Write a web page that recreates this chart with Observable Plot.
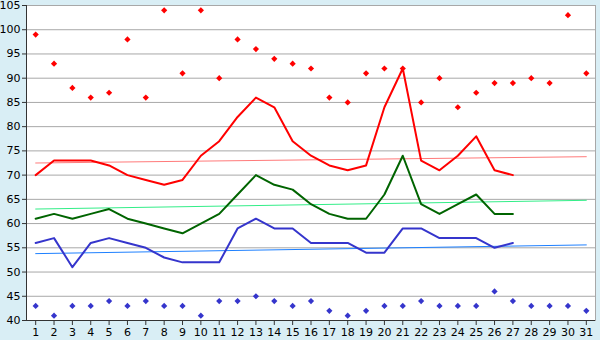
<!DOCTYPE html>
<html>
<head>
<meta charset="utf-8">
<script src="https://cdn.jsdelivr.net/npm/d3@7"></script>
<script src="https://cdn.jsdelivr.net/npm/@observablehq/plot@0.6"></script>
<style>
  html, body { margin: 0; padding: 0; background: #d9eef5; }
  #chart svg { display: block; }
</style>
</head>
<body>
<div id="chart"></div>
<script>
// Day of month (x axis tick labels)
const days = [1,2,3,4,5,6,7,8,9,10,11,12,13,14,15,16,17,18,19,20,21,22,23,24,25,26,27,28,29,30,31];

// Record highs / lows per day (scatter markers)
const recordHigh = [99,93,88,86,87,98,86,104,91,104,90,98,96,94,93,92,86,85,91,92,92,85,90,84,87,89,89,90,89,103,91];
const recordLow  = [43,41,43,43,44,43,44,43,43,41,44,44,45,44,43,44,42,41,42,43,43,44,43,43,43,46,44,43,43,43,42];

// Daily readings for days 1–27
const highs = [70,73,73,73,72,70,69,68,69,74,77,82,86,84,77,74,72,71,72,84,92,73,71,74,78,71,70];
const means = [61,62,61,62,63,61,60,59,58,60,62,66,70,68,67,64,62,61,61,66,74,64,62,64,66,62,62];
const lows  = [56,57,51,56,57,56,55,53,52,52,52,59,61,59,59,56,56,56,54,54,59,59,57,57,57,55,56];

// Trend line end values (day 1, day 31)
const trendDays  = [1, 31];
const highTrend  = [72.5, 73.8];
const meanTrend  = [63.0, 64.8];
const lowTrend   = [53.8, 55.6];

const yTicks = [40,45,50,55,60,65,70,75,80,85,90,95,100,105];

const pts = (xs, ys) => xs.map((x, i) => ({x, y: ys[i]})).filter(d => d.y != null);

// small filled diamond marker
const diamond = {
  draw(ctx) {
    const r = 3.1;
    ctx.moveTo(0, -r); ctx.lineTo(r, 0); ctx.lineTo(0, r); ctx.lineTo(-r, 0); ctx.closePath();
  }
};

const RED = "#ff0000", GREEN = "#006400", BLUE = "#3535cc";

const chart = Plot.plot({
  width: 600,
  height: 340,
  marginLeft: 26,
  marginRight: 5,
  marginTop: 5,
  marginBottom: 20,
  style: {background: "#d9eef5", fontFamily: "DejaVu Sans, Verdana, sans-serif", fontSize: "11px", color: "#000"},
  x: {type: "linear", domain: [0.5, 31.5], ticks: days, tickFormat: d => String(d), tickSize: 5, tickPadding: 3, label: null},
  y: {domain: [40, 105], ticks: yTicks, tickSize: 4, tickPadding: 2, label: null},
  marks: [
    Plot.frame({fill: "white", stroke: "#a8a8a8"}),
    Plot.ruleY(yTicks.filter(t => t > 40 && t < 105), {stroke: "#a8a8a8", strokeWidth: 1}),
    // trend lines
    Plot.line(pts(trendDays, highTrend), {x: "x", y: "y", stroke: "#ff7a7a", strokeWidth: 1}),
    Plot.line(pts(trendDays, meanTrend), {x: "x", y: "y", stroke: "#33ee88", strokeWidth: 1}),
    Plot.line(pts(trendDays, lowTrend),  {x: "x", y: "y", stroke: "#1e80ff", strokeWidth: 1}),
    // daily series
    Plot.line(pts(days, highs), {x: "x", y: "y", stroke: RED, strokeWidth: 2}),
    Plot.line(pts(days, means), {x: "x", y: "y", stroke: GREEN, strokeWidth: 2}),
    Plot.line(pts(days, lows),  {x: "x", y: "y", stroke: BLUE, strokeWidth: 2}),
    // records
    Plot.dot(pts(days, recordHigh), {x: "x", y: "y", symbol: diamond, fill: RED, stroke: "none"}),
    Plot.dot(pts(days, recordLow),  {x: "x", y: "y", symbol: diamond, fill: BLUE, stroke: "none"}),
    // axes
    Plot.axisY({ticks: yTicks, tickSize: 4, tickPadding: 2, stroke: "#333"}),
    Plot.axisX({ticks: days, tickFormat: d => String(d), tickSize: 5, tickPadding: 3, stroke: "#333"}),
    Plot.ruleX([0.5], {stroke: "#333"}),
    Plot.ruleY([40], {stroke: "#333"})
  ]
});

document.getElementById("chart").appendChild(chart);
</script>
</body>
</html>
